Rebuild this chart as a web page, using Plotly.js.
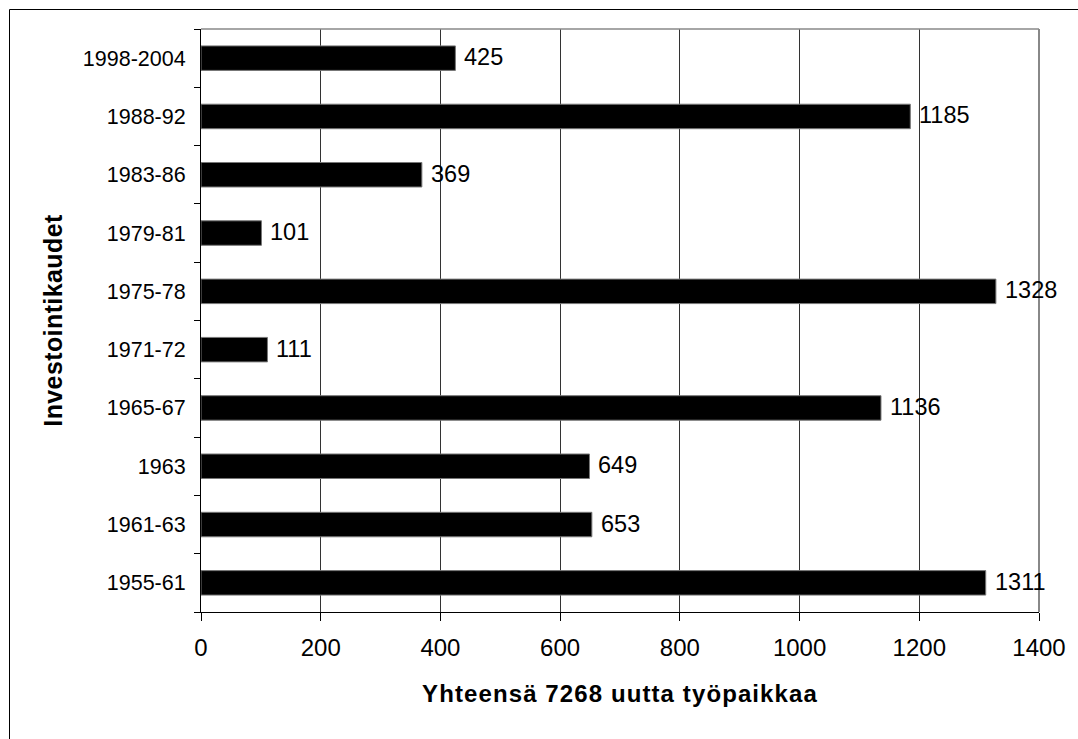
<!DOCTYPE html>
<html>
<head>
<meta charset="utf-8">
<script src="https://cdn.plot.ly/plotly-3.0.1.min.js"></script>
<style>
html,body{margin:0;padding:0;background:#fff;}
#chart{width:1078px;height:739px;}
#chart .xtitle{letter-spacing:1.1px;}
#chart .ytitle{letter-spacing:0.4px;}
</style>
</head>
<body>
<div id="chart"></div>
<script>
// Data (bottom to top)
var periods = ["1955-61","1961-63","1963","1965-67","1971-72","1975-78","1979-81","1983-86","1988-92","1998-2004"];
var jobs = [1311, 653, 649, 1136, 111, 1328, 101, 369, 1185, 425];
var xTickVals = [0, 200, 400, 600, 800, 1000, 1200, 1400];
var xTitle = "Yhteensä 7268 uutta työpaikkaa";
var yTitle = "Investointikaudet";

var W = 1078, H = 739;
var L = 201, R = 39, T = 29, B = 127;
var pw = W - L - R, ph = H - T - B;
function px(x){ return (x - L) / pw; }
function py(y){ return 1 - (y - T) / ph; }

var font = "Liberation Sans, Arial, sans-serif";

var trace = {
  type: "bar",
  orientation: "h",
  y: periods,
  x: jobs,
  marker: {color: "#000", line: {color: "#777", width: 1}},
  hoverinfo: "x+y"
};

// value labels: category index used as y position (category axis serial number)
var labels = jobs.map(function(v, i){
  return {
    x: v, y: i, xref: "x", yref: "y",
    text: String(v), showarrow: false,
    xanchor: "left", yanchor: "middle", xshift: 7, yshift: 1,
    font: {family: font, size: 23.5, color: "#000"}
  };
});

var layout = {
  width: W, height: H,
  margin: {l: L, r: R, t: T, b: B, pad: 0},
  paper_bgcolor: "#fff",
  plot_bgcolor: "#fff",
  showlegend: false,
  bargap: 0.58,
  font: {family: font, color: "#000"},
  xaxis: {
    range: [0, 1400],
    tickvals: xTickVals,
    ticktext: xTickVals.map(String),
    tickfont: {family: font, size: 24, color: "#000"},
    ticks: "outside", ticklen: 8, tickwidth: 1, tickcolor: "#000",
    showgrid: true, gridcolor: "#333", gridwidth: 1,
    showline: true, linecolor: "#000", linewidth: 1,
    zeroline: false,
    ticklabelstandoff: 6,
    fixedrange: true,
    title: {text: xTitle, font: {family: font, size: 24, color: "#000", weight: "bold"}, standoff: 25}
  },
  yaxis: {
    type: "category",
    categoryorder: "array",
    categoryarray: periods,
    range: [-0.5, periods.length - 0.5],
    autorange: false,
    tickfont: {family: font, size: 21.5, color: "#000"},
    ticks: "outside", ticklen: 6, tickwidth: 1, tickcolor: "#000",
    tickson: "boundaries",
    showgrid: false,
    showline: true, linecolor: "#000", linewidth: 1,
    zeroline: false,
    ticklabelstandoff: 10,
    fixedrange: true,
    title: {text: yTitle, font: {family: font, size: 25, color: "#000", weight: "bold"}, standoff: 13}
  },
  annotations: labels,
  shapes: [
    // plot area top and right border (gray)
    {type: "line", xref: "paper", yref: "paper", x0: 0, x1: 1, y0: 1, y1: 1, line: {color: "#888", width: 1.5}},
    {type: "line", xref: "paper", yref: "paper", x0: 1, x1: 1, y0: 0, y1: 1, line: {color: "#888", width: 2}},
    // outer chart frame
    {type: "rect", xref: "paper", yref: "paper", x0: px(9.5), x1: px(1085), y0: py(9.5), y1: py(745), line: {color: "#000", width: 1}, fillcolor: "rgba(0,0,0,0)"}
  ]
};

Plotly.newPlot("chart", [trace], layout, {displayModeBar: false, staticPlot: true});
</script>
</body>
</html>
